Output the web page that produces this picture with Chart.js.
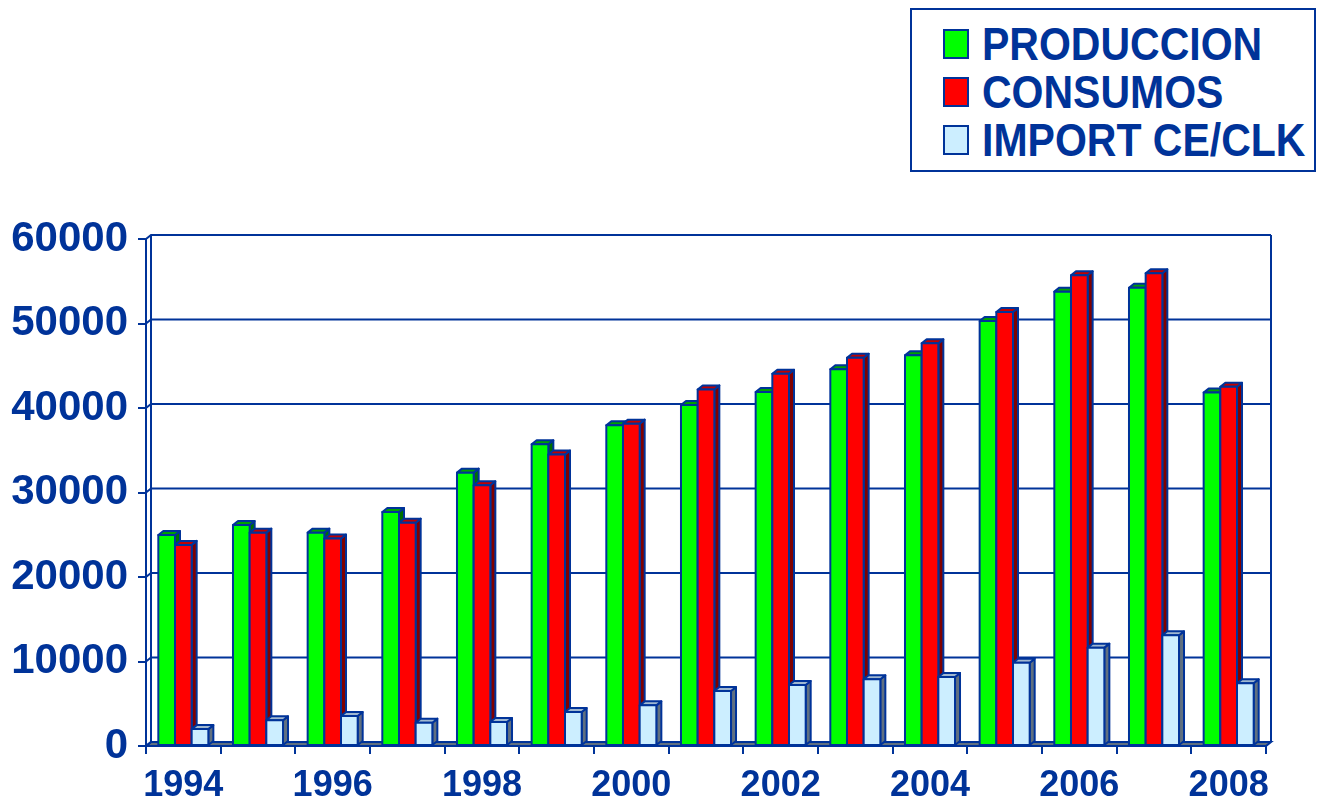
<!DOCTYPE html>
<html>
<head>
<meta charset="utf-8">
<script src="https://cdn.jsdelivr.net/npm/chart.js@4.4.1/dist/chart.umd.min.js"></script>
<style>
    html, body { margin: 0; padding: 0; background: #fff; }
    #wrap { position: relative; width: 1318px; height: 808px; }
    #legend {
        position: absolute; left: 910px; top: 8px; width: 406px; height: 164px;
        box-sizing: border-box; border: 2px solid #003399; background: #fff;
    }
    #legend .item {
        position: absolute; left: 31px; height: 48px;
        display: flex; align-items: center;
    }
    #legend .sw {
        width: 26px; height: 30px; box-sizing: border-box;
        border: 2px solid #003399; margin-right: 13px;
    }
    #legend .tx {
        font: bold 41px "Liberation Sans", Arial, sans-serif; color: #003399;
        display: inline-block; transform: scaleY(1.12); line-height: 48px; white-space: nowrap;
    }
</style>
</head>
<body>
<div id="wrap">
    <canvas id="chart" width="1318" height="808"></canvas>
    <div id="legend"></div>
</div>
<script>
// data
const years = ['1994', '1995', '1996', '1997', '1998', '1999', '2000', '2001',
               '2002', '2003', '2004', '2005', '2006', '2007', '2008'];
const produccion = [24970, 26150, 25250, 27700, 32350, 35700, 37950, 40350,
                    41900, 44580, 46230, 50300, 53770, 54240, 41820];
const consumos = [23800, 25250, 24550, 26430, 30850, 34500, 38150, 42200,
                  44060, 45950, 47650, 51360, 55700, 55940, 42520];
const importCeClk = [2000, 3040, 3550, 2760, 2840, 4020, 4810, 6500,
                     7220, 7890, 8170, 9860, 11640, 13100, 7420];
const yTicks = [0, 10000, 20000, 30000, 40000, 50000, 60000];

const navy = '#003399';
const DX = 5, DY = 4; // depth of the fake 3d

// Draws the back wall, floor and the side/top faces of the bars
const depthPlugin = {
    id: 'depth3d',
    beforeDatasetsDraw(chart) {
        const { ctx, chartArea: a, scales: { y } } = chart;
        ctx.save();
        ctx.strokeStyle = navy;
        ctx.lineWidth = 2;
        // floor
        ctx.fillStyle = '#607080';
        ctx.beginPath();
        ctx.moveTo(a.left, a.bottom);
        ctx.lineTo(a.right, a.bottom);
        ctx.lineTo(a.right + DX, a.bottom - DY);
        ctx.lineTo(a.left + DX, a.bottom - DY);
        ctx.closePath();
        ctx.fill();
        ctx.stroke();
        // back wall grid lines
        yTicks.forEach(v => {
            const py = y.getPixelForValue(v);
            ctx.beginPath();
            ctx.moveTo(a.left, py);
            ctx.lineTo(a.left + DX, py - DY);
            ctx.lineTo(a.right + DX, py - DY);
            ctx.stroke();
        });
        ctx.beginPath();
        ctx.moveTo(a.left + DX, a.top - DY);
        ctx.lineTo(a.left + DX, a.bottom - DY);
        ctx.moveTo(a.right + DX, a.top - DY);
        ctx.lineTo(a.right + DX, a.bottom - DY);
        ctx.stroke();
        ctx.restore();
    },
    afterDatasetsDraw(chart) {
        const ctx = chart.ctx;
        ctx.save();
        ctx.strokeStyle = navy;
        ctx.lineWidth = 2;
        ctx.lineJoin = 'round';
        chart.data.datasets.forEach((ds, i) => {
            const meta = chart.getDatasetMeta(i);
            meta.data.forEach(bar => {
                const { x, y, base, width } = bar.getProps(['x', 'y', 'base', 'width'], true);
                const l = x - width / 2, r = x + width / 2;
                // side face
                ctx.fillStyle = ds.sideColor;
                ctx.beginPath();
                ctx.moveTo(r, y);
                ctx.lineTo(r + DX, y - DY);
                ctx.lineTo(r + DX, base - DY);
                ctx.lineTo(r, base);
                ctx.closePath();
                ctx.fill();
                ctx.stroke();
                // top face
                ctx.fillStyle = ds.topColor;
                ctx.beginPath();
                ctx.moveTo(l, y);
                ctx.lineTo(l + DX, y - DY);
                ctx.lineTo(r + DX, y - DY);
                ctx.lineTo(r, y);
                ctx.closePath();
                ctx.fill();
                ctx.stroke();
                // front face again so it sits over the previous series
                ctx.fillStyle = ds.backgroundColor;
                ctx.fillRect(l, y, width, base - y);
                ctx.strokeRect(l, y, width, base - y);
            });
        });
        ctx.restore();
    }
};

const font = (size) => ({ family: '"Liberation Sans", Arial, sans-serif', size: size, weight: 'bold' });

const chart = new Chart(document.getElementById('chart'), {
    type: 'bar',
    data: {
        labels: years,
        datasets: [
            { label: 'PRODUCCION', data: produccion, backgroundColor: '#00ff00', topColor: '#00a000', sideColor: '#007000' },
            { label: 'CONSUMOS', data: consumos, backgroundColor: '#ff0000', topColor: '#c00000', sideColor: '#800000' },
            { label: 'IMPORT CE/CLK', data: importCeClk, backgroundColor: '#cceeff', topColor: '#a0b8d0', sideColor: '#607080' }
        ]
    },
    options: {
        responsive: false,
        animation: false,
        layout: { padding: { top: 239, right: 52, left: 0, bottom: 0 } },
        datasets: {
            bar: { categoryPercentage: 0.67, barPercentage: 1.0, borderWidth: 2, borderColor: navy }
        },
        plugins: {
            legend: { display: false },
            tooltip: { enabled: false }
        },
        scales: {
            x: {
                grid: { offset: true, drawOnChartArea: false, tickLength: 8, color: navy, lineWidth: 2 },
                border: { color: navy, width: 2 },
                ticks: {
                    autoSkip: false, maxRotation: 0, color: navy, font: font(36), padding: 10,
                    callback: (v, i) => (i % 2 === 0 ? years[i] : '')
                },
                afterFit: s => { s.height = 62; }
            },
            y: {
                min: 0,
                max: 60000,
                afterBuildTicks: s => { s.ticks = yTicks.map(v => ({ value: v })); },
                grid: { drawOnChartArea: false, tickLength: 8, color: navy, lineWidth: 2 },
                border: { color: navy, width: 2 },
                ticks: { color: navy, font: font(42), padding: 10, callback: v => String(v) },
                afterFit: s => { s.width = 146; }
            }
        }
    },
    plugins: [depthPlugin]
});

// legend box built from the datasets
const legend = document.getElementById('legend');
chart.data.datasets.forEach((ds, i) => {
    const row = document.createElement('div');
    row.className = 'item';
    row.style.top = (10 + i * 48) + 'px';
    row.innerHTML = `<span class="sw" style="background:${ds.backgroundColor}"></span><span class="tx">${ds.label}</span>`;
    legend.appendChild(row);
});
</script>
</body>
</html>
